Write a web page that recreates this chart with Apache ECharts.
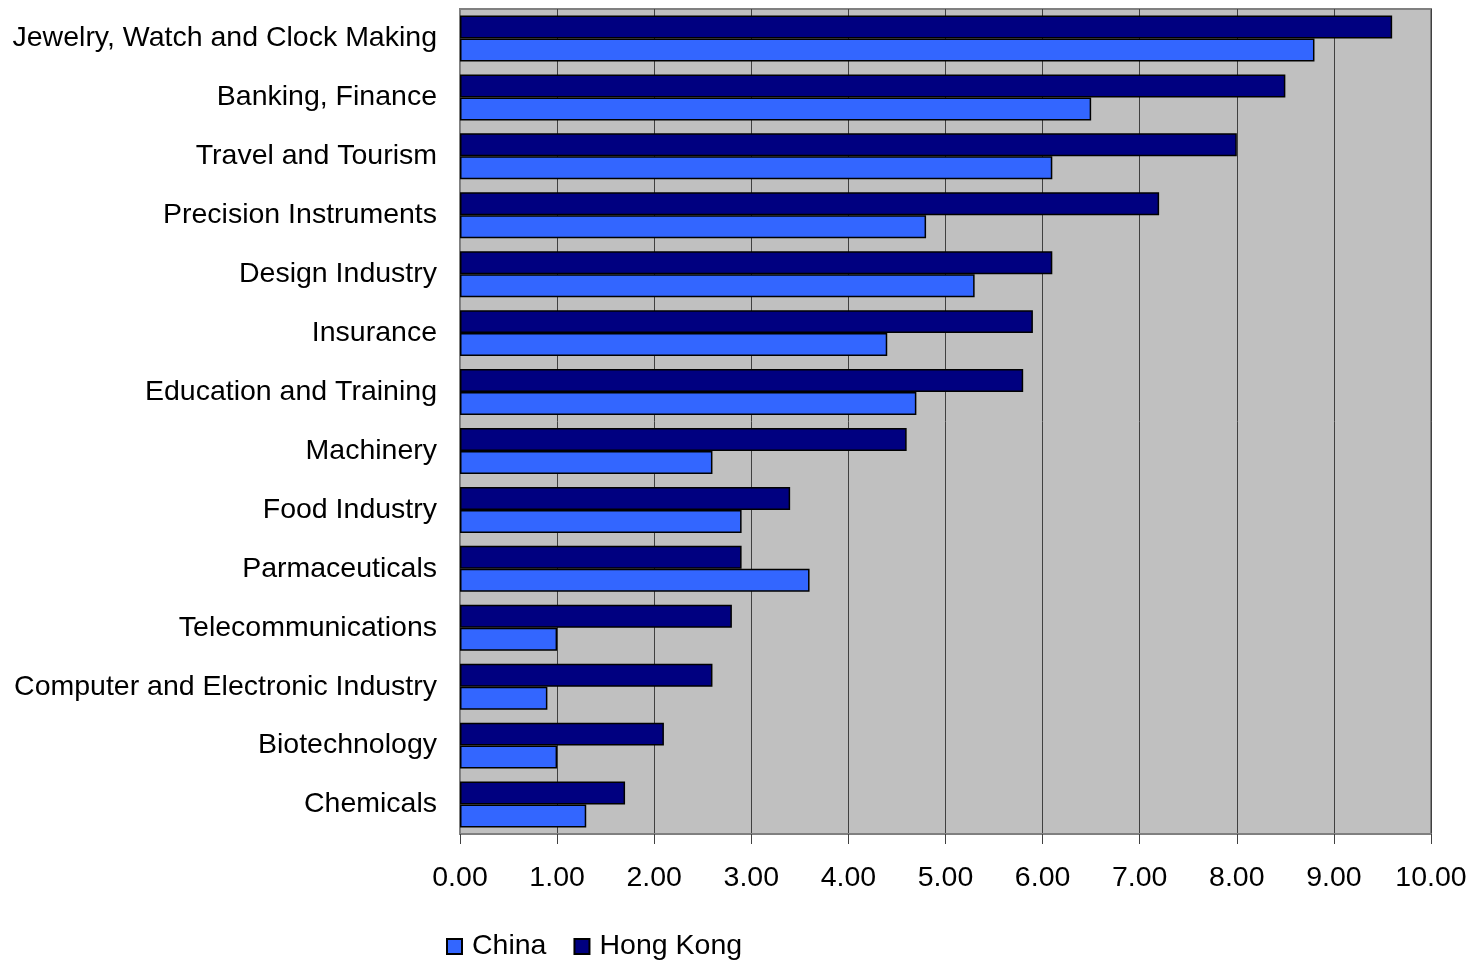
<!DOCTYPE html>
<html>
<head>
<meta charset="utf-8">
<script src="https://cdn.jsdelivr.net/npm/echarts@6/dist/echarts.min.js"></script>
<style>html,body{margin:0;padding:0;background:#fff;}#chart{width:1473px;height:960px;}</style>
</head>
<body>
<div id="chart"></div>
<script>
const categories = ["Jewelry, Watch and Clock Making","Banking, Finance","Travel and Tourism","Precision Instruments","Design Industry","Insurance","Education and Training","Machinery","Food Industry","Parmaceuticals","Telecommunications","Computer and Electronic Industry","Biotechnology","Chemicals"];
const china = [8.8,6.5,6.1,4.8,5.3,4.4,4.7,2.6,2.9,3.6,1.0,0.9,1.0,1.3];
const hongKong = [9.6,8.5,8.0,7.2,6.1,5.9,5.8,4.6,3.4,2.9,2.8,2.6,2.1,1.7];
const xTicks = [0,1,2,3,4,5,6,7,8,9,10];

const chart = echarts.init(document.getElementById('chart'));
const font = 'Liberation Sans, Arial, sans-serif';
chart.setOption({
  animation:false,
  grid:{left:460,right:42,top:9,bottom:126,show:true,backgroundColor:'#C0C0C0',borderColor:'#808080',borderWidth:2},
  legend:{
    data:['China','Hong Kong'], left:441, top:927, icon:'rect', itemWidth:15, itemHeight:15, itemGap:27,
    textStyle:{fontFamily:font,fontSize:28.5,color:'#000',padding:[0,0,0,5]},
  },
  xAxis:{
    type:'value', min:xTicks[0], max:xTicks[xTicks.length-1], interval:1,
    axisLine:{show:true,lineStyle:{color:'#808080',width:2}},
    axisTick:{show:true,length:10,lineStyle:{color:'#404040'}},
    splitLine:{show:true,lineStyle:{color:'#404040',width:1}},
    axisLabel:{formatter:v=>v.toFixed(2),fontFamily:font,fontSize:28.5,color:'#000',margin:30}
  },
  yAxis:{
    type:'category', data:categories, inverse:true,
    axisLine:{show:true,lineStyle:{color:'#808080',width:2}},
    axisTick:{show:false},
    axisLabel:{fontFamily:font,fontSize:28.5,color:'#000',margin:23}
  },
  series:[
    {name:'Hong Kong',type:'bar',data:hongKong,barGap:'0%',barCategoryGap:'22%',itemStyle:{color:'#000080',borderColor:'#000',borderWidth:1.5}},
    {name:'China',type:'bar',data:china,barGap:'0%',barCategoryGap:'22%',itemStyle:{color:'#3366FF',borderColor:'#000',borderWidth:1.5}}
  ]
});
</script>
</body>
</html>
